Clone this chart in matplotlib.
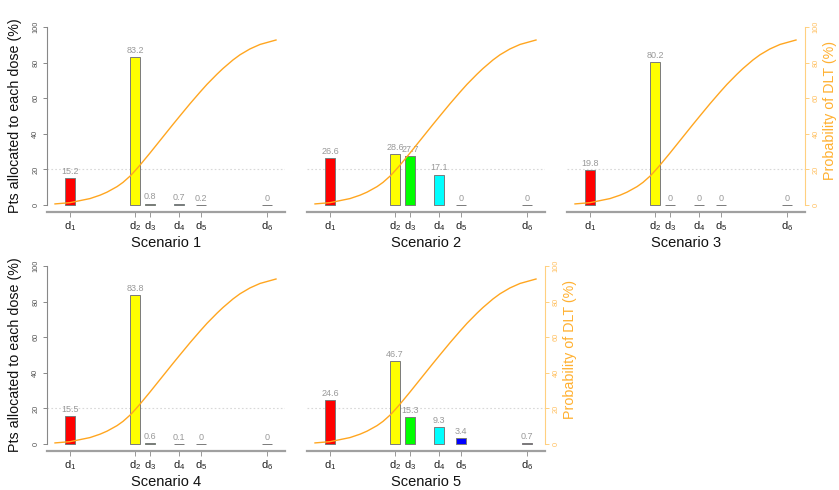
import matplotlib
matplotlib.use('Agg')
import matplotlib.pyplot as plt

plt.rcParams['font.family'] = ['Liberation Sans', 'DejaVu Sans']
plt.rcParams['mathtext.fontset'] = 'custom'
plt.rcParams['mathtext.rm'] = 'Liberation Sans'
plt.rcParams['mathtext.it'] = 'Liberation Sans:italic'

# doses and their positions on the x axis
dose_labels = [r'$\mathrm{d}_1$', r'$\mathrm{d}_2$', r'$\mathrm{d}_3$',
               r'$\mathrm{d}_4$', r'$\mathrm{d}_5$', r'$\mathrm{d}_6$']
dose_x = [0, 65, 80, 109, 131, 197]
bar_colors = ['red', 'yellow', '#00ff00', 'cyan', 'blue', 'purple']

scenarios = ['Scenario 1', 'Scenario 2', 'Scenario 3', 'Scenario 4', 'Scenario 5']
s1 = [15.2, 83.2, 0.8, 0.7, 0.2, 0]
s2 = [26.6, 28.6, 27.7, 17.1, 0, 0]
s3 = [19.8, 80.2, 0, 0, 0, 0]
s4 = [15.5, 83.8, 0.6, 0.1, 0, 0]
s5 = [24.6, 46.7, 15.3, 9.3, 3.4, 0.7]
alloc = [s1, s2, s3, s4, s5]

# dose-toxicity curve (same x units as dose_x)
curve_x = [-15, 0, 20, 30, 37, 47, 53, 60, 65, 70, 80, 87, 95, 103, 110, 120,
           130, 137, 147, 153, 163, 170, 180, 190, 206]
curve_p = [0.6, 1.3, 3.6, 5.5, 7.2, 10.3, 12.7, 16.2, 19.2, 22.4, 29.2, 34.1, 39.7, 45.3,
           50.1, 56.9, 63.4, 67.8, 73.5, 76.7, 81.5, 84.4, 87.7, 90.2, 92.7]

W, H = 839, 490
lefts = [47, 307, 567]
tops = [19.9, 258.9]
aw, ah = 238, 192.2

fig = plt.figure(figsize=(W / 100, H / 100), dpi=100)

for i, vals in enumerate(alloc):
    row, col = divmod(i, 3)
    ax = fig.add_axes([lefts[col] / W, 1 - (tops[row] + ah) / H, aw / W, ah / H])
    ax.set_xlim(-23, 215)
    ax.set_ylim(-4, 104)

    ax.axhline(20, color='#d8d8d8', lw=0.8, ls=(0, (1.5, 2)), zorder=1)
    ax.bar(dose_x, vals, width=10.5, color=bar_colors, edgecolor='#7a7a7a',
           lw=0.7, zorder=2)
    for x, v in zip(dose_x, vals):
        ax.annotate(f'{v:g}', (x, v), xytext=(0, 1.5), textcoords='offset points',
                    ha='center', va='bottom', fontsize=6.5, color='#999999')
    ax.plot(curve_x, curve_p, color='#ffa620', lw=1.0, zorder=3)

    for s in ['top', 'right', 'left']:
        ax.spines[s].set_visible(False)
    ax.spines['bottom'].set_color('#a0a0a0')
    ax.spines['bottom'].set_linewidth(1.6)
    ax.set_xticks(dose_x, dose_labels, fontsize=8, color='#222222')
    ax.tick_params(axis='x', length=3.5, width=0.7, color='#999999', pad=1.5)

    if col == 0:
        ax.spines['left'].set_visible(True)
        ax.spines['left'].set_bounds(0, 100)
        ax.spines['left'].set_color('#888888')
        ax.spines['left'].set_linewidth(0.8)
        ax.set_yticks([0, 20, 40, 60, 80, 100])
        ax.set_yticklabels(['0', '20', '40', '60', '80', '100'], rotation=90,
                           va='center', fontsize=5.3, color='#555555')
        ax.tick_params(axis='y', length=3, width=0.7, color='#888888', pad=2.5)
        fig.text(15 / W, 1 - (tops[row] + ah / 2) / H, 'Pts allocated to each dose (%)',
                 rotation=90, ha='center', va='center', fontsize=10.3, color='#111111')
    else:
        ax.set_yticks([])

    if i in (2, 4):
        ax2 = ax.twinx()
        ax2.set_ylim(-4, 104)
        for s in ['top', 'left', 'bottom']:
            ax2.spines[s].set_visible(False)
        ax2.spines['right'].set_bounds(0, 100)
        ax2.spines['right'].set_color('#ffd080')
        ax2.spines['right'].set_linewidth(0.8)
        ax2.set_yticks([0, 20, 40, 60, 80, 100])
        ax2.set_yticklabels(['0', '20', '40', '60', '80', '100'], rotation=90,
                            va='center', fontsize=5.3, color='#ffc060')
        ax2.tick_params(axis='y', length=3, width=0.7, color='#ffd080', pad=2.5)
        rx = lefts[col] + aw + 25
        fig.text(rx / W, 1 - (tops[row] + ah / 2 - 6) / H, 'Probability of DLT (%)',
                 rotation=90, ha='center', va='center', fontsize=10.3, color='#ffb030')

    fig.text((lefts[col] + aw / 2) / W, 1 - (tops[row] + ah + 31) / H, scenarios[i],
             ha='center', va='center', fontsize=10.5, color='#111111')

fig.savefig('out.png', dpi=100)
